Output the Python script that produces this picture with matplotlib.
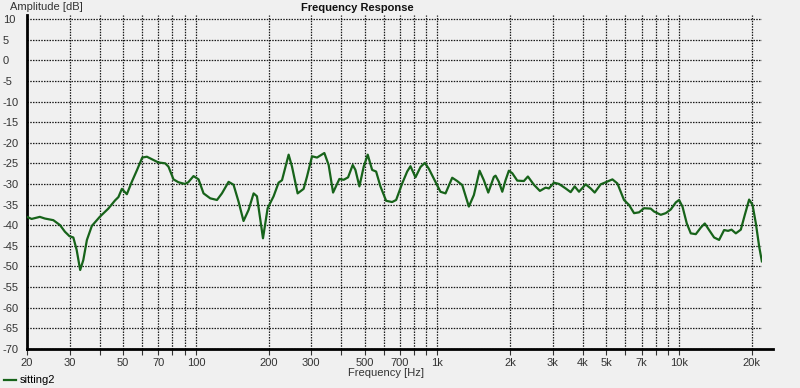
import matplotlib
matplotlib.use("Agg")
import matplotlib.pyplot as plt
from matplotlib.ticker import FixedLocator, NullFormatter

freq_hz = [20.0, 20.9, 22.6, 23.7, 25.7, 27.4, 28.7, 30, 31.1, 32.1, 33.2, 34.2, 35.4, 37.1,
           40, 43.4, 46.3, 47.8, 49.4, 51.8, 54.3, 57.0, 60, 62.7, 65.7, 70, 74.6, 77, 80.8,
           84.7, 90, 93, 97.8, 102.6, 107.6, 114.7, 122.3, 128.2, 136.6, 143.2, 150.2, 157.5,
           165.3, 173.4, 179.0, 189.6, 198.2, 209.8, 220.0, 227.3, 242.1, 250.0, 263.8, 279.3,
           288.5, 302.6, 317.4, 340.3, 354.5, 369.8, 392.7, 409.2, 426.7, 445.9, 457.5, 475.3,
           495.2, 514.5, 536.6, 557.4, 580.7, 613.2, 649.2, 674.5, 714.4, 749.3, 773.3, 811.1,
           850.7, 886.3, 920.8, 981.5, 1029, 1080, 1151, 1207, 1267, 1349, 1415, 1494, 1556,
           1623, 1712, 1740, 1796, 1855, 1914, 1975, 2040, 2140, 2279, 2368, 2507, 2655, 2804,
           2893, 3035, 3184, 3394, 3560, 3699, 3854, 4108, 4308, 4476, 4740, 4972, 5300, 5559,
           5918, 6209, 6513, 6830, 7164, 7636, 7881, 8402, 8813, 9243, 9694, 10000, 10333,
           10766, 11185, 11731, 12305, 12783, 13319, 13969, 14651, 15367, 15964, 16491, 17181,
           18019, 18721, 19505, 20150, 20797, 21462, 22024]
amp_db = [-38.0, -38.5, -38.0, -38.4, -38.8, -40.0, -41.6, -42.7, -43.0, -46.0, -50.9, -48.5, -43.6, -40.2,
          -38.0, -36.0, -34.0, -33.2, -31.2, -32.5, -29.5, -26.7, -23.6, -23.4, -24.0, -24.8, -25.0, -25.8, -28.9,
          -29.6, -30.0, -29.6, -28.1, -28.9, -32.3, -33.5, -33.9, -32.3, -29.5, -30.2, -34.3, -39.0,
          -36.3, -32.3, -33.0, -43.2, -35.9, -33.0, -29.7, -29.1, -22.9, -25.8, -32.3, -31.2,
          -28.2, -23.3, -23.6, -22.5, -25.4, -32.1, -28.8, -29.0, -28.4, -25.4, -26.6, -30.6,
          -25.8, -22.9, -26.6, -27.0, -30.6, -34.1, -34.4, -33.9, -29.9, -27.0, -25.7, -28.4,
          -25.9, -24.9, -26.3, -29.5, -31.9, -32.3, -28.5, -29.3, -30.3, -35.5, -32.7, -26.8, -29.1,
          -32.1, -28.3, -28.0, -29.5, -31.9, -29.1, -26.8, -27.4, -29.2, -29.3, -28.2, -30.2, -31.7, -30.9,
          -31.1, -29.7, -30.0, -31.1, -32.0, -30.6, -31.9, -30.1, -31.1, -32.1, -30.1, -29.6, -28.9, -29.9,
          -33.9, -35.1, -37.1, -36.9, -35.9, -36.0, -36.7, -37.5, -37.1, -36.2, -34.5, -33.9, -35.5,
          -39.6, -42.0, -42.2, -40.6, -39.6, -41.2, -43.0, -43.6, -41.2, -41.4, -41.1, -42.0,
          -41.1, -37.5, -33.8, -35.1, -39.6, -45.2, -48.8]

major_ticks = [20, 30, 50, 70, 100, 200, 300, 500, 700, 1000, 2000, 3000, 4000, 5000, 7000, 10000, 20000]
major_labels = ["20", "30", "50", "70", "100", "200", "300", "500", "700", "1k", "2k", "3k", "4k", "5k", "7k", "10k", "20k"]
minor_ticks = [40, 60, 80, 90, 400, 600, 800, 900, 6000, 8000, 9000]
y_ticks = list(range(-70, 11, 5))

bg = "#f0f0f0"
plt.rcParams['font.family'] = ['Liberation Sans', 'DejaVu Sans']
plt.rcParams['axes.unicode_minus'] = False

fig = plt.figure(figsize=(8.0, 3.88), dpi=100, facecolor=bg)
ax = fig.add_axes([27/800, 1 - 348.7/388, 735/800, (348.7 - 15)/388])
ax.set_facecolor(bg)

ax.plot(freq_hz, amp_db, color="#17631a", lw=1.6, label="sitting2", zorder=3,
        solid_joinstyle="round")

ax.set_xscale("log")
ax.set_xlim(20, 22050)
ax.set_ylim(-70, 11)

ax.xaxis.set_major_locator(FixedLocator(major_ticks))
ax.set_xticklabels(major_labels)
ax.xaxis.set_minor_locator(FixedLocator(minor_ticks))
ax.xaxis.set_minor_formatter(NullFormatter())
ax.set_yticks(y_ticks)

gstyle = dict(color="#1a1a1a", linestyle=(0, (1.2, 1.0)), linewidth=0.9)
ax.grid(True, which="major", axis="both", **gstyle)
ax.grid(True, which="minor", axis="x", **gstyle)

for s in ["top", "right"]:
    ax.spines[s].set_visible(False)
ax.spines["left"].set_linewidth(2)
ax.spines["bottom"].set_visible(False)
ax.plot([0, (773 - 27) / 735], [0, 0], transform=ax.transAxes, color="black", lw=2, clip_on=False, zorder=4)

ax.tick_params(axis="y", length=0, pad=17.3, labelsize=8, colors="#333333")
for lbl in ax.get_yticklabels():
    lbl.set_horizontalalignment("left")
ax.tick_params(axis="x", which="both", length=4, width=0.8, direction="out", pad=3, labelsize=8, colors="#333333")

fig.text(10/800, 1 - 7/388, "Amplitude [dB]", fontsize=8, va="center", ha="left", color="#333333")
fig.text(357/800, 1 - 8/388, "Frequency Response", fontsize=8, fontweight="bold", va="center", ha="center", color="#111111")
fig.text(386/800, 1 - 373/388, "Frequency [Hz]", fontsize=8, va="center", ha="center", color="#333333")

fig.legend(loc="lower left", bbox_to_anchor=(0.0, -0.005), frameon=False, fontsize=8,
           handlelength=1.0, handletextpad=0.4, borderaxespad=0.2, borderpad=0.2)

fig.savefig("out.png", dpi=100, facecolor=bg)
